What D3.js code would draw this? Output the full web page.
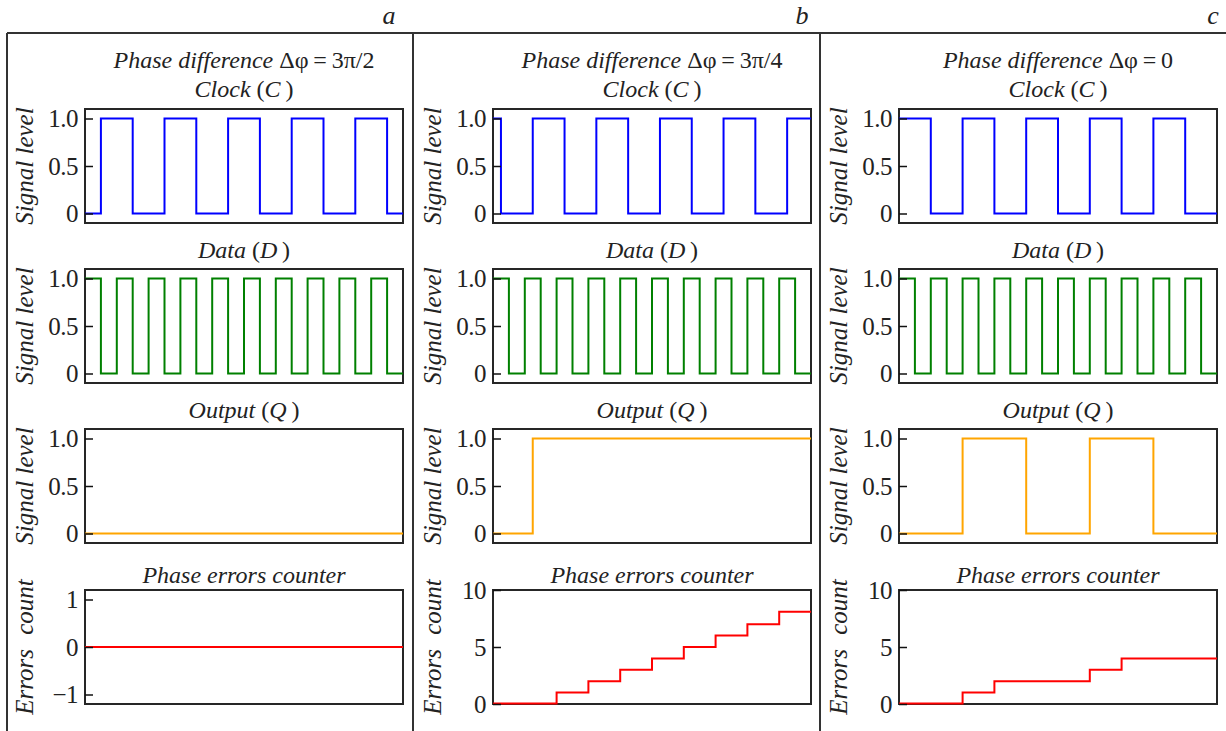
<!DOCTYPE html>
<html>
<head>
<meta charset="utf-8">
<script src="https://cdn.jsdelivr.net/npm/d3@7"></script>
<style>
  body { margin: 0; background: #fff; }
</style>
</head>
<body>
<div id="canvas"></div>
<script>
(function (d3) {
  'use strict';

  const width = 1226;
  const height = 731;
  const serif = 'Liberation Serif';

  // time axis: 5 clock periods
  const timeDomain = [0, 5];

  // panel captions and phase differences
  const panelLetters = ['a', 'b', 'c'];
  const phaseLabels = ['3π/2', '3π/4', '0'];

  // Clock (C)
  const clockTimesA = [0, 0.25, 0.75, 1.25, 1.75, 2.25, 2.75, 3.25, 3.75, 4.25, 4.75, 5];
  const clockLevelsA = [0, 1, 0, 1, 0, 1, 0, 1, 0, 1, 0, 0];
  const clockTimesB = [0, 0.125, 0.625, 1.125, 1.625, 2.125, 2.625, 3.125, 3.625, 4.125, 4.625, 5];
  const clockLevelsB = [1, 0, 1, 0, 1, 0, 1, 0, 1, 0, 1, 1];
  const clockTimesC = [0, 0.5, 1, 1.5, 2, 2.5, 3, 3.5, 4, 4.5, 5];
  const clockLevelsC = [1, 0, 1, 0, 1, 0, 1, 0, 1, 0, 0];

  // Data (D), same in every panel
  const dataTimes = [0, 0.25, 0.5, 0.75, 1, 1.25, 1.5, 1.75, 2, 2.25, 2.5, 2.75, 3, 3.25, 3.5, 3.75, 4, 4.25, 4.5, 4.75, 5];
  const dataLevels = [1, 0, 1, 0, 1, 0, 1, 0, 1, 0, 1, 0, 1, 0, 1, 0, 1, 0, 1, 0, 0];

  // Output (Q)
  const outputTimesA = [0, 5];
  const outputLevelsA = [0, 0];
  const outputTimesB = [0, 0.625, 5];
  const outputLevelsB = [0, 1, 1];
  const outputTimesC = [0, 1, 2, 3, 4, 5];
  const outputLevelsC = [0, 1, 0, 1, 0, 0];

  // Phase errors counter
  const errorTimesA = [0, 5];
  const errorCountsA = [0, 0];
  const errorTimesB = [0, 1, 1.5, 2, 2.5, 3, 3.5, 4, 4.5, 5];
  const errorCountsB = [0.05, 1, 2, 3, 4, 5, 6, 7, 8.1, 8.1];
  const errorTimesC = [0, 1, 1.5, 3, 3.5, 5];
  const errorCountsC = [0.05, 1, 2, 3, 4, 4];

  // y axes
  const signalDomain = [-0.1, 1.1];
  const signalTicks = [0, 0.5, 1];
  const errorDomainA = [-1.2, 1.2];
  const errorTicksA = [-1, 0, 1];
  const errorDomain = [0, 10];
  const errorTicks = [0, 5, 10];

  const zip = (ts, vs) => ts.map((t, i) => ({ t: t, v: vs[i] }));

  const panels = [
    {
      clock: zip(clockTimesA, clockLevelsA),
      output: zip(outputTimesA, outputLevelsA),
      errors: zip(errorTimesA, errorCountsA),
      errDomain: errorDomainA, errTicks: errorTicksA
    },
    {
      clock: zip(clockTimesB, clockLevelsB),
      output: zip(outputTimesB, outputLevelsB),
      errors: zip(errorTimesB, errorCountsB),
      errDomain: errorDomain, errTicks: errorTicks
    },
    {
      clock: zip(clockTimesC, clockLevelsC),
      output: zip(outputTimesC, outputLevelsC),
      errors: zip(errorTimesC, errorCountsC),
      errDomain: errorDomain, errTicks: errorTicks
    }
  ];
  const dataSeries = zip(dataTimes, dataLevels);

  // layout
  const dividerX = [7, 413, 820];
  const letterX = [389, 802, 1213];
  const plotLeft = [85, 493, 899];
  const plotWidth = 318;
  const plotHeight = 114;
  const rowTop = [109, 269, 429, 590];
  const frameTop = 33;

  const svg = d3.select('#canvas')
    .append('svg')
    .attr('width', width)
    .attr('height', height)
    .attr('font-family', serif);

  // outer frame
  svg.append('line')
    .attr('x1', dividerX[0]).attr('x2', width)
    .attr('y1', frameTop).attr('y2', frameTop)
    .attr('stroke', '#333').attr('stroke-width', 2);
  dividerX.forEach((x) => {
    svg.append('line')
      .attr('x1', x).attr('x2', x)
      .attr('y1', frameTop).attr('y2', height)
      .attr('stroke', '#333').attr('stroke-width', 2);
  });

  const fmt = (d) => d === 0 ? '0' : d.toFixed(1);
  const fmtErr = (d) => d < 0 ? '\u2212' + Math.abs(d) : String(d);

  const drawPlot = (px, top, series, color, yDomain, yTicks, tickFormat, yLabel) => {
    const x = d3.scaleLinear().domain(timeDomain).range([px, px + plotWidth]);
    const y = d3.scaleLinear().domain(yDomain).range([top + plotHeight, top]);

    const line = d3.line()
      .x((d) => x(d.t))
      .y((d) => y(d.v))
      .curve(d3.curveStepAfter);

    svg.append('rect')
      .attr('x', px).attr('y', top)
      .attr('width', plotWidth).attr('height', plotHeight)
      .attr('fill', 'none')
      .attr('stroke', '#262626')
      .attr('stroke-width', 2);

    svg.append('path')
      .datum(series)
      .attr('d', line)
      .attr('fill', 'none')
      .attr('stroke', color)
      .attr('stroke-width', 2);

    const axis = svg.append('g')
      .attr('transform', `translate(${px},0)`)
      .call(d3.axisLeft(y)
        .tickValues(yTicks)
        .tickFormat(tickFormat)
        .tickSizeInner(-8)
        .tickSizeOuter(0)
        .tickPadding(7));
    axis.attr('font-family', serif).attr('font-size', 25);
    axis.select('.domain').remove();
    axis.selectAll('line').attr('stroke', '#111').attr('stroke-width', 1.5);
    axis.selectAll('text')
      .attr('font-family', serif)
      .attr('font-size', 25)
      .attr('letter-spacing', -0.5)
      .attr('fill', '#222');

    svg.append('text')
      .attr('transform', `translate(${px - 52},${top + plotHeight / 2}) rotate(-90)`)
      .attr('text-anchor', 'middle')
      .attr('font-family', serif)
      .attr('font-size', 25)
      .attr('font-style', 'italic')
      .attr('fill', '#222')
      .attr('word-spacing', yLabel === 'Errors count' ? 8 : 0)
      .text(yLabel);
  };

  const title = (cx, baseline, parts) => {
    const t = svg.append('text')
      .attr('x', cx).attr('y', baseline)
      .attr('text-anchor', 'middle')
      .attr('font-family', serif)
      .attr('font-size', 24)
      .attr('fill', '#222');
    parts.forEach((p) => {
      t.append('tspan')
        .attr('font-style', p[1] ? 'italic' : 'normal')
        .text(p[0]);
    });
  };

  panels.forEach((p, i) => {
    const px = plotLeft[i];
    const cx = px + plotWidth / 2;

    svg.append('text')
      .attr('x', letterX[i])
      .attr('y', 24)
      .attr('text-anchor', 'middle')
      .attr('font-family', serif)
      .attr('font-size', 26)
      .attr('font-style', 'italic')
      .attr('fill', '#222')
      .text(panelLetters[i]);

    title(cx, 68, [['Phase difference ', true], ['\u0394\u03c6\u2009=\u2009' + phaseLabels[i], false]]);
    title(cx, rowTop[0] - 12, [['Clock', true], [' (', false], ['C\u2009', true], [')', false]]);
    title(cx, rowTop[1] - 11, [['Data', true], [' (', false], ['D\u2009', true], [')', false]]);
    title(cx, rowTop[2] - 11, [['Output', true], [' (', false], ['Q\u2009', true], [')', false]]);
    title(cx, rowTop[3] - 7, [['Phase errors counter', true]]);

    drawPlot(px, rowTop[0], p.clock, '#0000ff', signalDomain, signalTicks, fmt, 'Signal level');
    drawPlot(px, rowTop[1], dataSeries, '#008000', signalDomain, signalTicks, fmt, 'Signal level');
    drawPlot(px, rowTop[2], p.output, '#ffa500', signalDomain, signalTicks, fmt, 'Signal level');
    drawPlot(px, rowTop[3], p.errors, '#ff0000', p.errDomain, p.errTicks, fmtErr, 'Errors count');
  });

}(d3));
</script>
</body>
</html>
